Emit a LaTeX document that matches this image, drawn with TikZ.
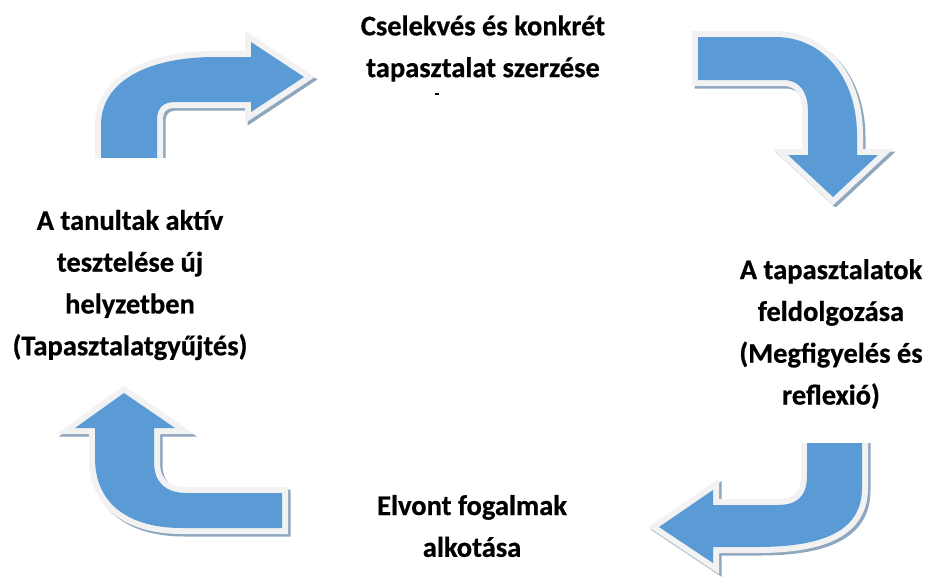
\documentclass[tikz,border=0pt]{standalone}
\usepackage{fontspec}
\setmainfont{Carlito}[BoldFeatures={FakeBold=0.6}]

\definecolor{arrowblue}{RGB}{91,155,213}
\definecolor{rimgray}{RGB}{242,242,242}
\definecolor{shadegray}{RGB}{143,167,190}

\tikzset{
	arrowbody/.style={fill=arrowblue},
	arrowrim/.style={draw=rimgray, line width=12pt, line join=miter},
	arrowshade/.style={draw=shadegray, fill=shadegray, line width=12pt, line join=miter},
	stage/.style={align=center, inner sep=0pt, font=\bfseries\fontsize{28.5}{41.8}\selectfont}
}

% one bent block arrow: shadow, light rim, blue body
\newcommand{\bentarrow}[1]{
	\draw[arrowshade, shift={(2.5,2.5)}] #1;
	\draw[arrowrim] #1;
	\fill[arrowbody] #1;
}

\begin{document}
\begin{tikzpicture}[x=1pt, y=-1pt]
				\useasboundingbox (0,0) rectangle (929,579);

				% Arrows
				\begin{scope}
					\clip (0,0) rectangle (929,157);
					\bentarrow{(101,160) -- (101,125) .. controls (101,80) and (150,57) .. (215,57) -- (251,57) -- (251,42) -- (304,77) -- (251,112) -- (251,102) -- (175,102) .. controls (163,102) and (157,108) .. (157,120) -- (157,160) -- cycle}
				\end{scope}
				\begin{scope}
					\clip (0,0) rectangle (929,206);
					\bentarrow{(698,37) -- (775,37) .. controls (825,37) and (857,80) .. (857,135) -- (857,155) -- (878,155) -- (833,197) -- (788,155) -- (808,155) -- (808,112) .. controls (808,92) and (800,80) .. (783,80) -- (698,80) -- cycle}
				\end{scope}
				\begin{scope}
					\clip (0,443) rectangle (929,579);
					\bentarrow{(807,440) -- (807,475) .. controls (807,497) and (797,505) .. (777,505) -- (713,505) -- (713,490) -- (659,527) -- (713,563) -- (713,547) -- (757,547) .. controls (825,547) and (862,530) .. (862,488) -- (862,440) -- cycle}
				\end{scope}
				\bentarrow{(282,493) -- (187,493) .. controls (165,493) and (154,482) .. (154,462) -- (154,428) -- (175,428) -- (124,393) -- (75,428) -- (95,428) -- (95,458) .. controls (95,505) and (130,528) .. (182,528) -- (282,528) -- cycle}

				% Nodes
				\node[stage] (act) at (483,48.5) {Cselekvés és konkrét\\tapasztalat szerzése};
				\node[stage] (reflect) at (831,334) {A tapasztalatok\\feldolgozása\\(Megfigyelés és\\reflexió)};
				\node[stage] (concept) at (472,526) {Elvont fogalmak\\alkotása};
				\node[stage] (test) at (130,285) {A tanultak aktív\\tesztelése új\\helyzetben\\(Tapasztalatgyűjtés)};

				% stray mark
				\draw[line width=1.5pt] (435,94) -- (439,94);
			\end{tikzpicture}
\end{document}
